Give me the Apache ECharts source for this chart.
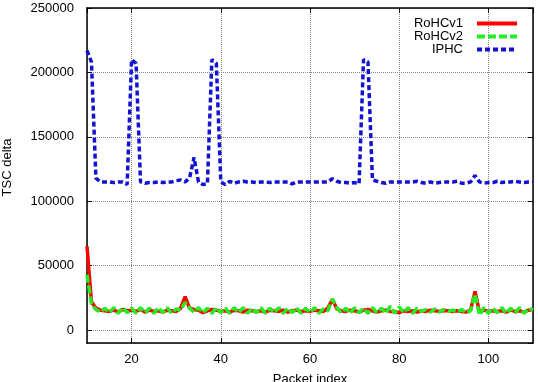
<!DOCTYPE html>
<html>
<head>
<meta charset="utf-8">
<script src="https://cdn.jsdelivr.net/npm/echarts@6/dist/echarts.min.js"></script>
<style>
  html, body { margin: 0; padding: 0; background: #fff; }
  #chart { width: 538px; height: 382px; }
</style>
</head>
<body>
<div id="chart"></div>
<script>
// packet index starts at 10, one value per packet
var firstPacket = 10;

var rohcv1 = [65000, 22000, 17000, 15500, 15000, 14500, 15500, 14000, 16000, 15000,
  15500, 14500, 16000, 14000, 15500, 14500, 15000, 14000, 15500, 15000,
  14500, 17000, 26000, 17000, 16000, 15500, 13500, 15000, 16000, 15500,
  14500, 15000, 14000, 15500, 15000, 14000, 15500, 15000, 14500, 15000,
  14000, 15500, 15000, 14500, 15500, 14000, 15000, 15500, 14500, 15000,
  14500, 15500, 15000, 14500, 17000, 24000, 16500, 15000, 14500, 15500,
  15000, 14000, 15500, 16000, 15000, 14000, 15000, 15500, 14500, 14500,
  13500, 15000, 14500, 15000, 14000, 15000, 14500, 15500, 15000, 14500,
  15000, 15000, 14500, 15000, 14500, 14000, 15500, 30000, 14000, 15500,
  14500, 15000, 14500, 15000, 14000, 15500, 14500, 15000, 14000, 15500, 16000];

var rohcv2 = [43000, 20000, 16000, 14000, 17000, 13500, 17500, 13000, 17500, 13500,
  17000, 13000, 17500, 13500, 17000, 13000, 17500, 13500, 17500, 13000,
  16500, 15500, 21500, 17000, 14000, 17500, 13500, 17000, 13000, 17500,
  13500, 17000, 13000, 17500, 13500, 17500, 13000, 17000, 13500, 17500,
  13000, 17000, 13500, 17500, 13000, 17000, 13500, 17500, 13000, 17000,
  13500, 17500, 13000, 16500, 15000, 24000, 17500, 13500, 17000, 13000,
  17500, 13500, 17000, 13000, 17500, 13500, 17000, 13000, 18500, 13000,
  18000, 13500, 17500, 13000, 17000, 14500, 16000, 14000, 16500, 14000,
  16000, 14500, 15500, 14000, 16000, 13500, 15000, 28000, 11500, 17500,
  13000, 17000, 13500, 17500, 13000, 17000, 13500, 17500, 13000, 17000, 15500];

var iphc = [217000, 208000, 118000, 115000, 115000, 115000, 114500, 115000, 115000, 113000,
  210000, 207000, 115000, 114000, 114500, 114500, 115000, 114500, 115000, 115000,
  116000, 116500, 115000, 118000, 134000, 115000, 113000, 113500, 210000, 207000,
  115000, 113000, 115500, 114000, 115000, 115500, 115000, 115000, 114500, 115000,
  115000, 114500, 115000, 115000, 115000, 115000, 113500, 115000, 115000, 115000,
  115000, 115000, 115000, 115000, 115000, 117500, 115500, 114500, 114500, 114000,
  114500, 113500, 210000, 208000, 116500, 115500, 114500, 114000, 115000, 115000,
  115000, 115000, 115000, 115000, 115500, 114500, 114000, 115000, 114000, 114500,
  115000, 115000, 115000, 115500, 114000, 114000, 115000, 120000, 115000, 114000,
  114500, 114500, 115500, 114500, 115000, 115000, 115500, 115000, 114500, 115000, 115000];

var seriesNames = ['RoHCv1', 'RoHCv2', 'IPHC'];

function pairs(values) {
  return values.map(function (v, i) { return [firstPacket + i, v]; });
}
function plain(v) { return String(v); }

var myChart = echarts.init(document.getElementById('chart'));
var font = 'Liberation Sans';

var gridLine = { show: true, lineStyle: { color: '#888', type: 'dotted', width: 1 } };
var frame = { show: true, onZero: false, lineStyle: { color: '#000', width: 1.5 } };
var ticks = { show: true, inside: true, length: 5, lineStyle: { color: '#000' } };

var option = {
  animation: false,
  textStyle: { fontFamily: font, color: '#000' },
  grid: { left: 87, right: 5, top: 8, bottom: 39, outerBoundsMode: 'none', containLabel: false },
  legend: {
    data: seriesNames,
    orient: 'vertical',
    right: 14,
    top: 12,
    align: 'right',
    itemWidth: 40,
    itemHeight: 14,
    itemGap: 0,
    itemStyle: { opacity: 0 },
    lineStyle: { width: 4 },
    textStyle: { fontFamily: font, fontSize: 13, color: '#000', padding: [0, 9, 0, 0] }
  },
  xAxis: [{
    type: 'value',
    min: 10,
    max: 110,
    splitNumber: 5,
    name: 'Packet index',
    nameLocation: 'middle',
    nameGap: 30,
    nameTextStyle: { fontFamily: font, fontSize: 13, color: '#000' },
    axisLine: frame,
    axisTick: ticks,
    axisLabel: { fontFamily: font, fontSize: 13, color: '#000', margin: 10, showMinLabel: false, showMaxLabel: false, formatter: plain },
    splitLine: gridLine
  }, {
    type: 'value',
    position: 'top',
    min: 10,
    max: 110,
    splitNumber: 5,
    axisLine: frame,
    axisTick: ticks,
    axisLabel: { show: false },
    splitLine: { show: false }
  }],
  yAxis: [{
    type: 'value',
    min: -10000,
    max: 250000,
    splitNumber: 5,
    name: 'TSC delta',
    nameLocation: 'middle',
    nameGap: 73,
    nameTextStyle: { fontFamily: font, fontSize: 13, color: '#000', padding: [0, 0, 0, 16] },
    axisLine: frame,
    axisTick: ticks,
    axisLabel: { fontFamily: font, fontSize: 13, color: '#000', margin: 13, showMinLabel: false, formatter: plain },
    splitLine: gridLine
  }, {
    type: 'value',
    position: 'right',
    min: -10000,
    max: 250000,
    splitNumber: 5,
    axisLine: frame,
    axisTick: ticks,
    axisLabel: { show: false },
    splitLine: { show: false }
  }],
  series: [{
    name: 'RoHCv1',
    type: 'line',
    data: pairs(rohcv1),
    symbol: 'none',
    color: '#ff0000',
    lineStyle: { color: '#ff0000', width: 3.5 }
  }, {
    name: 'RoHCv2',
    type: 'line',
    data: pairs(rohcv2),
    symbol: 'none',
    color: '#22ee22',
    lineStyle: { color: '#22ee22', width: 3.5, type: [8, 3] }
  }, {
    name: 'IPHC',
    type: 'line',
    data: pairs(iphc),
    symbol: 'none',
    color: '#1212d4',
    lineStyle: { color: '#1212d4', width: 3.5, type: [5, 3] }
  }]
};

myChart.setOption(option);
</script>
</body>
</html>
